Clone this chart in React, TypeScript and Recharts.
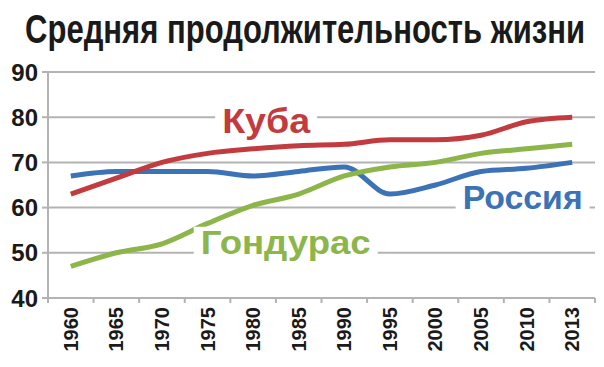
import { LineChart, Line, XAxis, YAxis, CartesianGrid, ReferenceDot } from "recharts";

// ── Data ──────────────────────────────────────────────────

const YEARS = ["1960", "1965", "1970", "1975", "1980", "1985", "1990", "1995", "2000", "2005", "2010", "2013"];
const CUBA = [63, 66.5, 70, 72, 73, 73.7, 74, 75, 75, 76, 79, 80];
const RUSSIA = [67, 68, 68, 68, 67, 68, 69, 63, 65, 68, 68.7, 70];
const HONDURAS = [47, 50, 52, 56.5, 60.5, 63, 67, 69, 70, 72, 73, 74];
const Y_TICKS = [40, 50, 60, 70, 80, 90];

const TITLE = "Средняя продолжительность жизни";

const chartData = YEARS.map((year, i) => ({
  year,
  cuba: CUBA[i],
  russia: RUSSIA[i],
  honduras: HONDURAS[i],
}));

// ── Layout ────────────────────────────────────────────────

const W = 604;
const H = 367;
const PLOT_LEFT = 48;
const PLOT_RIGHT = 595;
const PLOT_TOP = 72;
const PLOT_BOTTOM = 298;
const HALF_BAND = (PLOT_RIGHT - PLOT_LEFT) / YEARS.length / 2;
const FONT = "'Liberation Sans', Arial, sans-serif";
const GRID = "#b3b3b3";

const COLORS = {
  cuba: "#c23b3e",
  russia: "#3c72b6",
  honduras: "#8cb54a",
};

// ── Sub-components ────────────────────────────────────────

const YearTick = (props: any) => {
  const { x, y, payload, index } = props;
  const isLast = index === YEARS.length - 1;
  return (
    <g>
      <line x1={x - HALF_BAND} x2={x - HALF_BAND} y1={y} y2={y + 5} stroke={GRID} strokeWidth={2} />
      {isLast && (
        <line x1={x + HALF_BAND} x2={x + HALF_BAND} y1={y} y2={y + 5} stroke={GRID} strokeWidth={2} />
      )}
      <text
        transform={`translate(${x + 7},${y + 9}) rotate(-90)`}
        textAnchor="end"
        fontFamily={FONT}
        fontWeight="bold"
        fontSize={20}
        fill="#1a1a1a"
      >
        {payload.value}
      </text>
    </g>
  );
};

const makeTag =
  (text: string, color: string, size: number, width: number, dx: number, dy: number) =>
  (props: any) => {
    const { cx, cy } = props;
    const cxT = cx + dx;
    const base = cy + dy;
    return (
      <g>
        <rect x={cxT - width / 2 - 7} y={base - size * 0.82} width={width + 14} height={size * 0.95} fill="#ffffff" />
        <text
          x={cxT - width / 2}
          y={base}
          textLength={width}
          lengthAdjust="spacingAndGlyphs"
          fontFamily={FONT}
          fontWeight="bold"
          fontSize={size}
          fill={color}
        >
          {text}
        </text>
      </g>
    );
  };

// ── Component ─────────────────────────────────────────────

export default function App() {
  return (
    <div style={{ position: "absolute", left: 0, top: 0, width: W, height: H, background: "#fff" }}>
      <LineChart
        width={W}
        height={H}
        data={chartData}
        margin={{ top: PLOT_TOP, right: W - PLOT_RIGHT, bottom: 0, left: 0 }}
      >
        <CartesianGrid vertical={false} stroke={GRID} strokeWidth={2} />
        <XAxis
          dataKey="year"
          padding={{ left: HALF_BAND, right: HALF_BAND }}
          interval={0}
          tickLine={false}
          tickSize={0}
          tickMargin={0}
          axisLine={{ stroke: GRID, strokeWidth: 2 }}
          tick={<YearTick />}
          height={H - PLOT_BOTTOM}
        />
        <YAxis
          width={PLOT_LEFT}
          domain={[40, 90]}
          ticks={Y_TICKS}
          interval={0}
          tickSize={6}
          tickMargin={4}
          tickLine={{ stroke: GRID, strokeWidth: 2 }}
          axisLine={{ stroke: GRID, strokeWidth: 2 }}
          tick={{ fontFamily: FONT, fontWeight: "bold", fontSize: 24, fill: "#1a1a1a" }}
        />
        <Line
          type="monotone"
          dataKey="russia"
          stroke={COLORS.russia}
          strokeWidth={5}
          dot={false}
          isAnimationActive={false}
        />
        <Line
          type="monotone"
          dataKey="honduras"
          stroke={COLORS.honduras}
          strokeWidth={5}
          dot={false}
          isAnimationActive={false}
        />
        <Line
          type="monotone"
          dataKey="cuba"
          stroke={COLORS.cuba}
          strokeWidth={5}
          dot={false}
          isAnimationActive={false}
        />
        <ReferenceDot x="1980" y={80} r={0} shape={makeTag("Куба", COLORS.cuba, 35, 88, 13, 16)} />
        <ReferenceDot x="2010" y={60} r={0} shape={makeTag("Россия", COLORS.russia, 33, 120, -4, 1)} />
        <ReferenceDot x="1985" y={50} r={0} shape={makeTag("Гондурас", COLORS.honduras, 33, 170, -13, 1)} />
      </LineChart>
      <svg width={W} height={64} style={{ position: "absolute", left: 0, top: 0 }}>
        <text
          transform="translate(25,43) scale(1,1.3)"
          x={0}
          y={0}
          textLength={560}
          lengthAdjust="spacingAndGlyphs"
          fontFamily={FONT}
          fontWeight="bold"
          fontSize={31}
          fill="#1a1a1a"
        >
          {TITLE}
        </text>
      </svg>
    </div>
  );
}
